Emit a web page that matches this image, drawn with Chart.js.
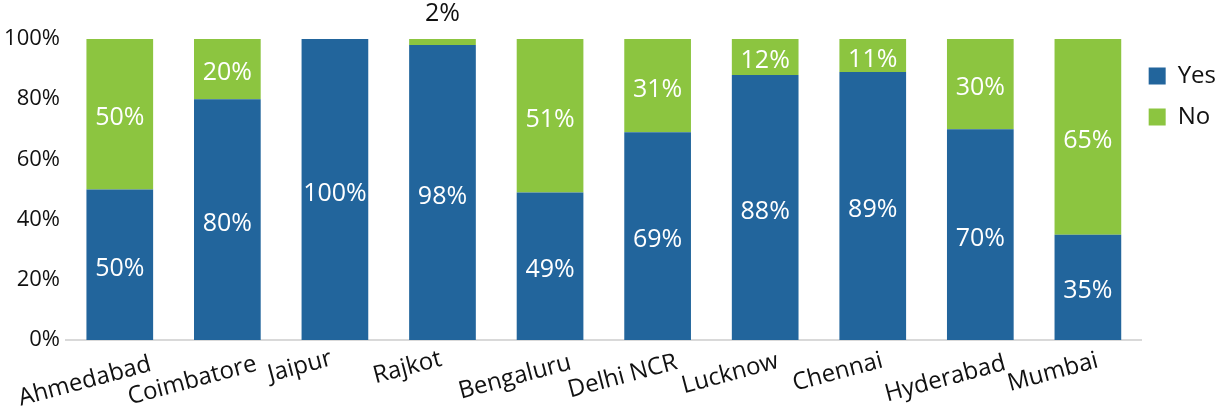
<!DOCTYPE html>
<html>
<head>
<meta charset="utf-8">
<script src="https://cdn.jsdelivr.net/npm/chart.js@4"></script>
<style>
  html, body { margin: 0; padding: 0; background: #fff; }
</style>
</head>
<body>
<canvas id="chart" width="1225" height="414"></canvas>
<script>
const cities = ['Ahmedabad', 'Coimbatore', 'Jaipur', 'Rajkot', 'Bengaluru', 'Delhi NCR', 'Lucknow', 'Chennai', 'Hyderabad', 'Mumbai'];
const yesPct = [50, 80, 100, 98, 49, 69, 88, 89, 70, 35];
const noPct = [50, 20, 0, 2, 51, 31, 12, 11, 30, 65];
const yTicks = [0, 20, 40, 60, 80, 100];

const FONT = '"Open Sans", Lato, sans-serif';
const TEXT = '#111';

// --- value labels inside / above the bars ---
const barLabels = {
  id: 'barLabels',
  afterDatasetsDraw(chart) {
    const ctx = chart.ctx;
    ctx.save();
    ctx.font = '25px ' + FONT;
    ctx.textAlign = 'center';
    ctx.textBaseline = 'middle';
    chart.data.datasets.forEach((ds, di) => {
      chart.getDatasetMeta(di).data.forEach((bar, i) => {
        const v = ds.data[i];
        if (!v) return;
        const h = bar.base - bar.y;
        if (h < 20) {
          ctx.fillStyle = TEXT;
          ctx.fillText(v + '%', bar.x, bar.y - 25);
        } else {
          ctx.fillStyle = '#fff';
          ctx.fillText(v + '%', bar.x, (bar.y + bar.base) / 2 + 4);
        }
      });
    });
    ctx.restore();
  }
};

// --- tilted category labels, centred left of the tick like the original ---
const tiltLabels = {
  id: 'tiltLabels',
  beforeDraw(chart) {
    const sc = chart.scales.x;
    const ctx = chart.ctx;
    const ang = sc.labelRotation * Math.PI / 180;
    sc.getLabelItems().forEach((it, i) => {
      ctx.font = it.font.string;
      const w = ctx.measureText(it.label).width;
      it.options.textAlign = 'center';
      it.options.textBaseline = 'middle';
      it.options.translation = [sc.getPixelForTick(i) - 35, sc.top + 13 + 0.08 * w + (w / 2) * Math.sin(ang)];
      it.textOffset = 0;
    });
  }
};

// --- move the legend block next to the plot ---
const legendNudge = {
  id: 'legendNudge',
  afterLayout(chart) {
    const lg = chart.legend;
    lg.left -= 10; lg.right -= 10;
    lg.top += 8; lg.bottom += 8;
  }
};

new Chart(document.getElementById('chart'), {
  type: 'bar',
  data: {
    labels: cities,
    datasets: [
      { label: 'Yes', data: yesPct, backgroundColor: '#22659c', borderWidth: 0 },
      { label: 'No', data: noPct, backgroundColor: '#8cc540', borderWidth: 0 }
    ]
  },
  options: {
    responsive: false,
    animation: false,
    layout: { padding: { top: 39, right: -11, left: 0, bottom: 0 } },
    datasets: { bar: { categoryPercentage: 1, barPercentage: 0.62 } },
    scales: {
      x: {
        stacked: true,
        grid: { display: false },
        border: { color: '#d9d9d9', width: 2 },
        ticks: { autoSkip: false, minRotation: 15, maxRotation: 15, color: TEXT, font: { family: FONT, size: 24 } },
        afterFit: s => { s.height = 74; s.paddingLeft = 0; s.paddingRight = 0; }
      },
      y: {
        stacked: true,
        min: 0,
        max: 100,
        grid: { display: false },
        border: { display: false },
        afterBuildTicks: s => { s.ticks = yTicks.map(v => ({ value: v })); },
        ticks: { padding: -2, color: TEXT, font: { family: FONT, size: 22 }, callback: v => v + '%' },
        afterFit: s => { s.width = 66; }
      }
    },
    plugins: {
      legend: {
        position: 'right',
        align: 'start',
        labels: { boxWidth: 17, boxHeight: 17, padding: 17, color: TEXT, font: { family: FONT, size: 24 } }
      },
      tooltip: { enabled: false }
    }
  },
  plugins: [barLabels, tiltLabels, legendNudge]
});
</script>
</body>
</html>
